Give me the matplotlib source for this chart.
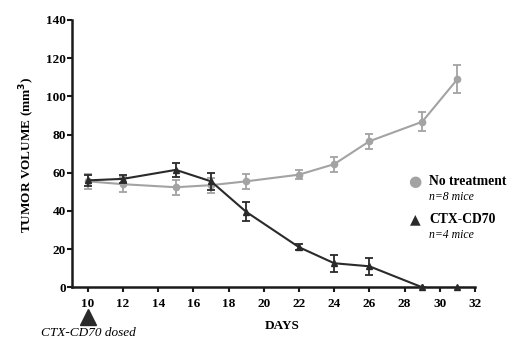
import matplotlib
matplotlib.use("Agg")
import matplotlib.pyplot as plt

plt.rcParams['font.family'] = ['Liberation Serif', 'DejaVu Serif']

days = [10, 12, 15, 17, 19, 22, 24, 26, 29, 31]
no_treat = [55.5, 54.0, 52.4, 53.5, 55.5, 59.0, 64.5, 76.5, 86.7, 109.0]
no_treat_err = [4.0, 4.0, 4.0, 4.0, 4.0, 2.5, 4.0, 4.0, 5.0, 7.2]
ctx = [56.0, 56.8, 61.5, 55.5, 39.5, 21.0, 12.6, 11.0, 0.0, 0.0]
ctx_err = [3.0, 2.0, 3.7, 4.5, 5.0, 1.5, 4.5, 4.6, 0.0, 0.0]
dose_day = 10
xticks = list(range(10, 33, 2))
yticks = list(range(0, 141, 20))

gray = '#a3a3a3'
dark = '#2a2a2a'

W, H = 524, 351
fig = plt.figure(figsize=(W / 100, H / 100), dpi=100)
ax = fig.add_axes([72 / W, 1 - 287.3 / H, 403 / W, 267.3 / H])

ax.errorbar(days, no_treat, yerr=no_treat_err, color=gray, marker='o', ms=4.5,
            lw=1.5, capsize=3, elinewidth=1.3, capthick=1.3, zorder=3)
ax.errorbar(days[:9], ctx[:9], yerr=ctx_err[:9], color=dark, marker='^', ms=4.5,
            lw=1.5, capsize=3, elinewidth=1.3, capthick=1.3, zorder=4)
ax.plot(days[8:], ctx[8:], ls='none', marker='^', ms=4.5, color=dark, zorder=4, clip_on=False)

ax.set_xlim(9.1, 32)
ax.set_ylim(0, 140)
ax.set_xticks(xticks)
ax.set_yticks(yticks)
for s in ['top', 'right']:
    ax.spines[s].set_visible(False)
for s in ['left', 'bottom']:
    ax.spines[s].set_linewidth(1.8)
    ax.spines[s].set_color('#1a1a1a')
ax.tick_params(axis='both', direction='out', length=3.5, width=1.5, color='#1a1a1a',
               labelsize=9.5)
ax.tick_params(axis='x', pad=4)
ax.tick_params(axis='y', pad=1)
for lab in ax.get_xticklabels() + ax.get_yticklabels():
    lab.set_fontweight('bold')

fig.text(27.5 / W, 1 - 155 / H, 'TUMOR VOLUME (mm$^\\mathbf{3}$)', fontsize=9.5,
         fontweight='bold', rotation=90, ha='center', va='center')
fig.text(281.7 / W, 1 - 325.7 / H, 'DAYS', fontsize=9.5, fontweight='bold',
         ha='center', va='center')

# Legend drawn manually
fig.text(415 / W, 1 - 181.7 / H, '●', color=gray, fontsize=11, ha='center', va='center',
         family='DejaVu Sans')
fig.text(429 / W, 1 - 181.7 / H, 'No treatment', fontsize=9.8, fontweight='bold', va='center')
fig.text(429 / W, 1 - 197.5 / H, 'n=8 mice', fontsize=8.5, style='italic', va='center')
fig.text(415 / W, 1 - 219.5 / H, '▲', color=dark, fontsize=10, ha='center', va='center',
         family='DejaVu Sans')
fig.text(429 / W, 1 - 219.5 / H, 'CTX-CD70', fontsize=9.8, fontweight='bold', va='center')
fig.text(429 / W, 1 - 235 / H, 'n=4 mice', fontsize=8.5, style='italic', va='center')

# dosing annotation: triangle under day 10
ax.plot([dose_day], [-15.5], marker='^', ms=11, color=dark, ls='none', clip_on=False)
fig.text(88 / W, 1 - 333.5 / H, 'CTX-CD70 dosed', fontsize=9.5, style='italic',
         ha='center', va='center')

fig.savefig('out.png', dpi=100)
